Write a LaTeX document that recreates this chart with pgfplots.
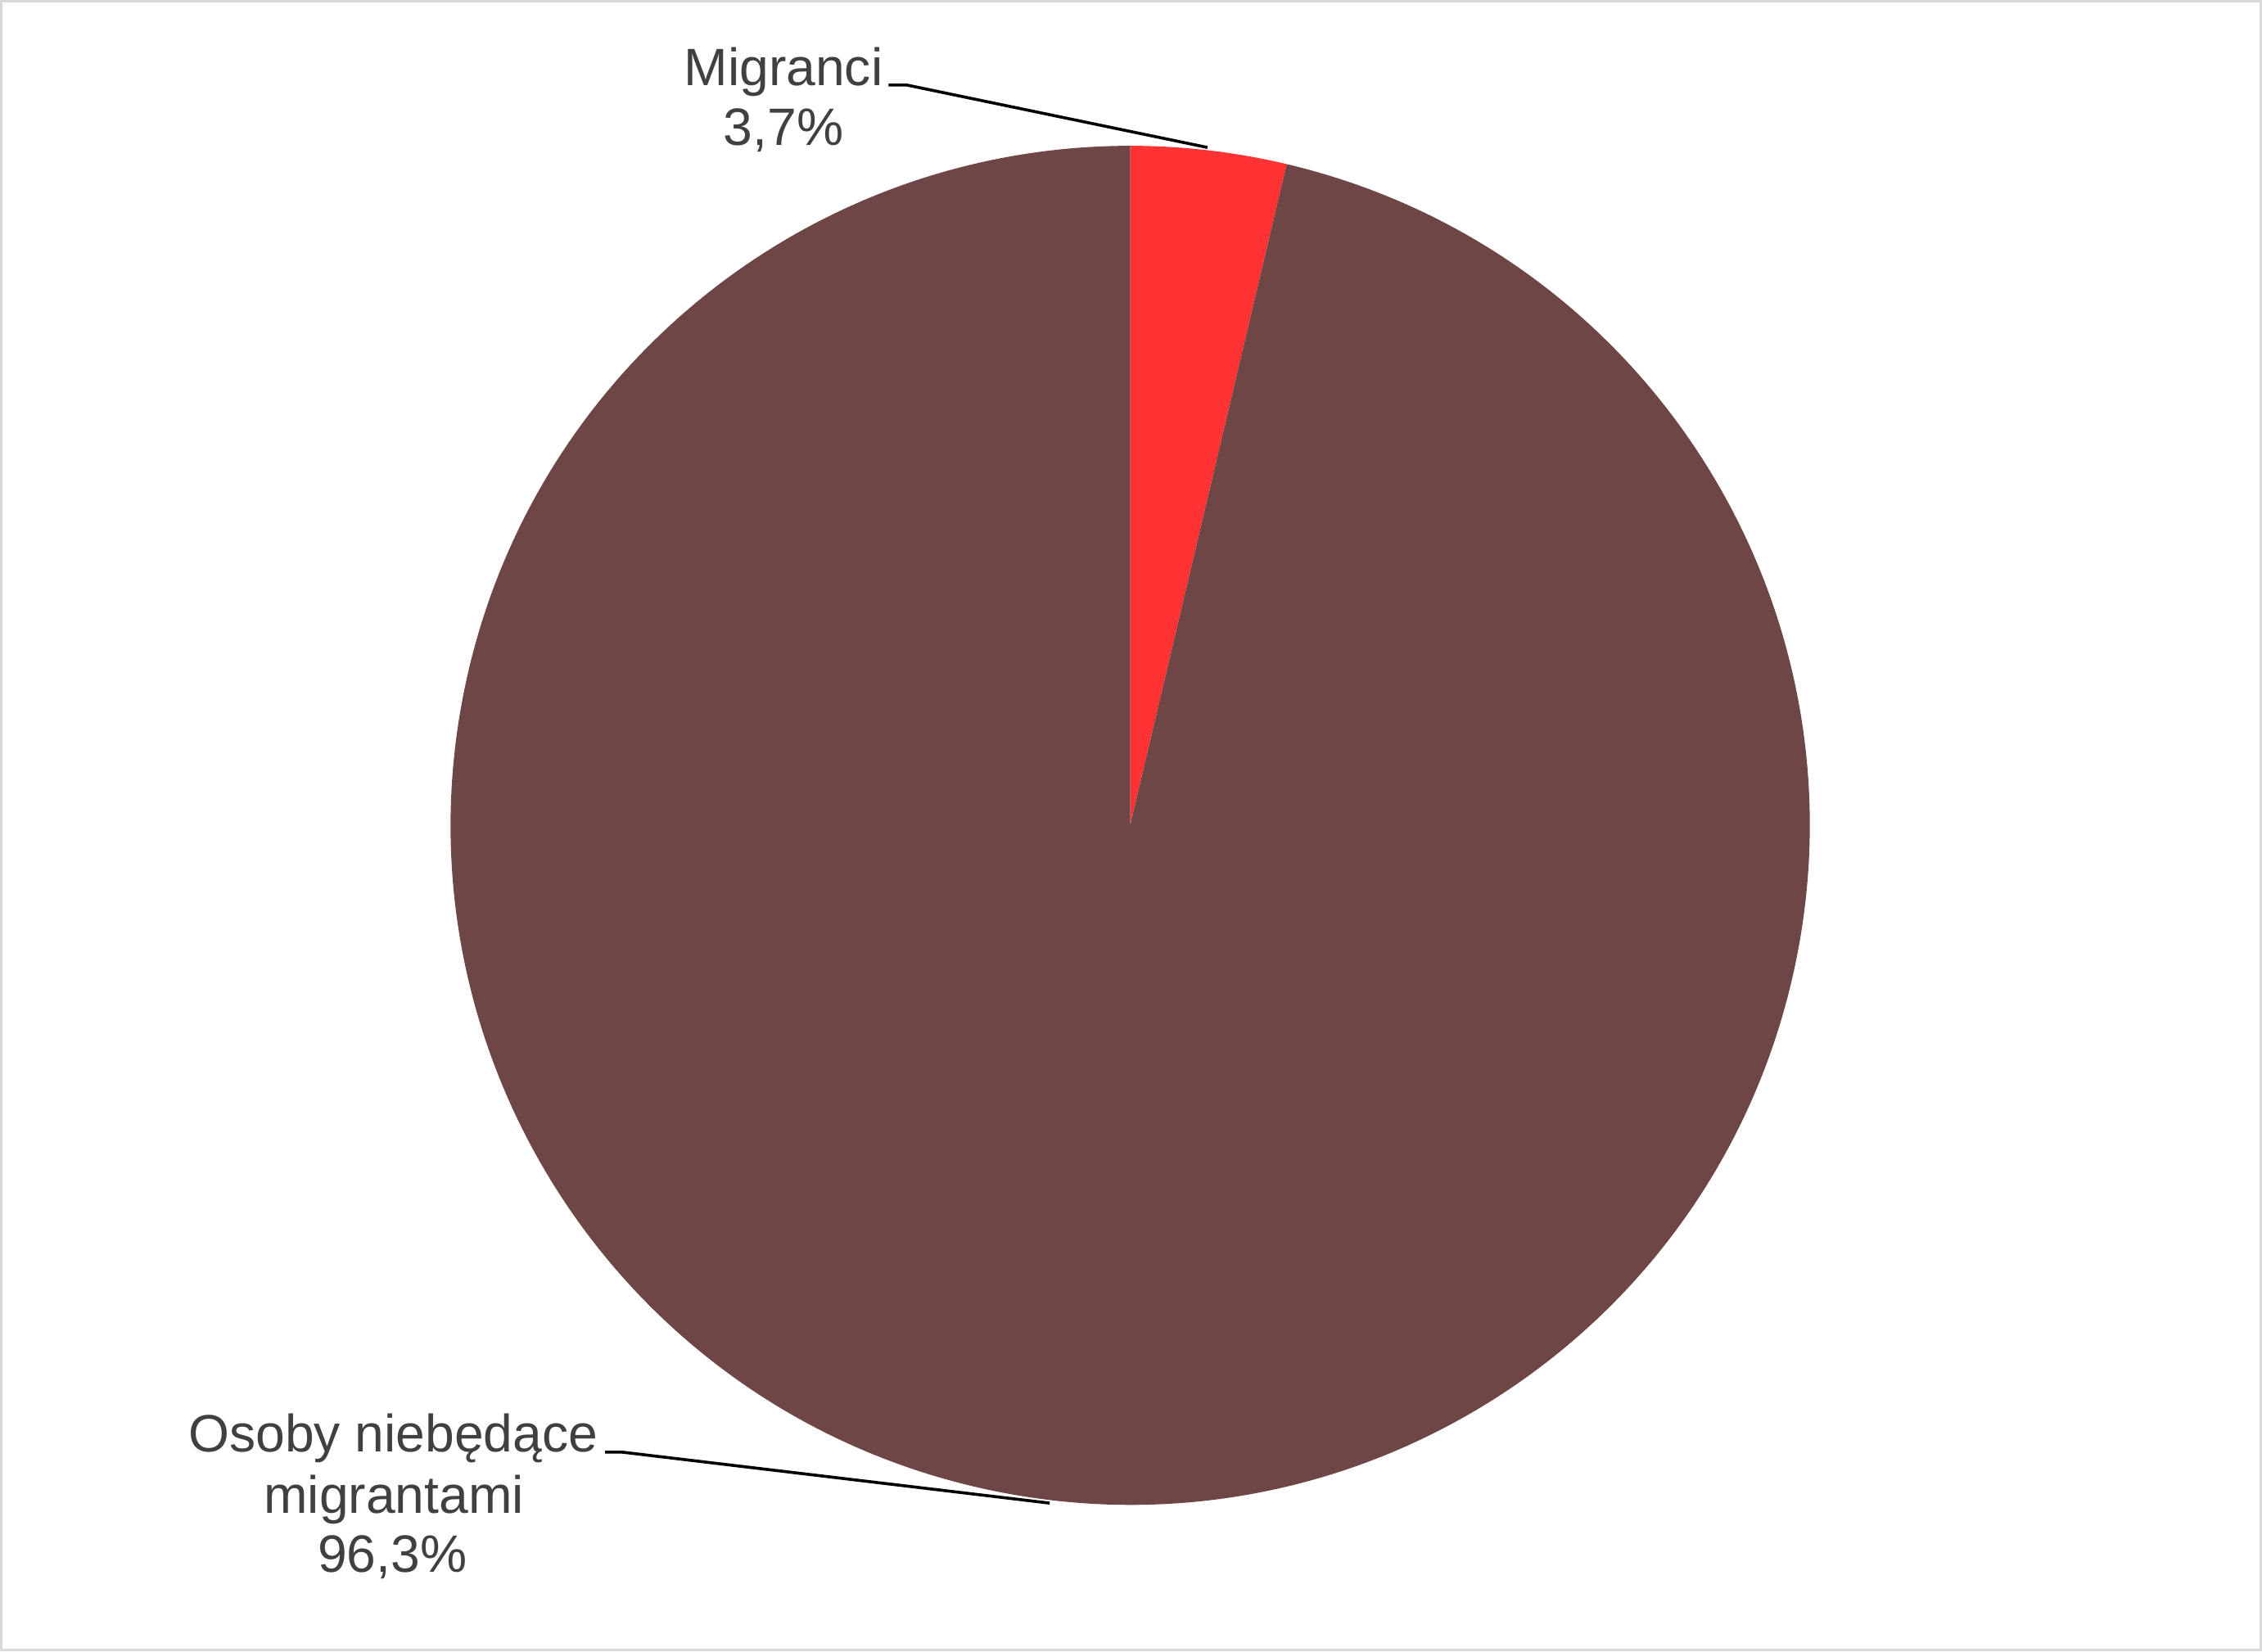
\documentclass[border=0pt]{standalone}
\usepackage{pgfplots}
\pgfplotsset{compat=1.18}
\usepackage{fontspec}
\setmainfont{Liberation Sans}
\definecolor{migred}{HTML}{FF3333}
\definecolor{piebrown}{HTML}{6F4646}
\definecolor{txt}{HTML}{404040}
\definecolor{frame}{HTML}{D9D9D9}
\begin{document}
\begin{tikzpicture}
\begin{axis}[
  width=690.75pt, height=505.25pt, scale only axis,
  xmin=0, xmax=2763, ymin=0, ymax=2021,
  hide axis, clip=false,
]
% data: Migranci 3.7, Osoby niebedace migrantami 96.3
\pgfmathsetmacro\angA{90-3.6*3.7}
\pgfmathsetmacro\angB{\angA-3.6*96.3}
\fill[migred] (axis cs:1379,1013) -- ++(90:206.75pt) arc[start angle=90,end angle=\angA,radius=206.75pt] -- cycle;
\fill[piebrown] (axis cs:1379,1013) -- ++(\angA:206.75pt) arc[start angle=\angA,end angle=\angB,radius=206.75pt] -- cycle;
% frame
\draw[frame, line width=0.75pt] (axis cs:5,9) rectangle (axis cs:2755,2016);
% leader lines
\draw[black, line width=0.9pt] (axis cs:1085,1914) -- (axis cs:1107,1914) -- (axis cs:1473,1838);
\draw[black, line width=0.9pt] (axis cs:740,250) -- (axis cs:761,250) -- (axis cs:1281,188);
% labels
\begin{scope}[every node/.style={anchor=base, inner sep=0pt, text=txt, font=\fontsize{16}{18}\selectfont}]
\node at (axis cs:957,1913.5) {Migranci};
\node at (axis cs:957,1841) {3,7\%};
\node at (axis cs:482,250) {Osoby niebędące};
\node at (axis cs:483,176) {migrantami};
\node at (axis cs:481,104) {96,3\%};
\end{scope}
\end{axis}
\end{tikzpicture}
\end{document}
